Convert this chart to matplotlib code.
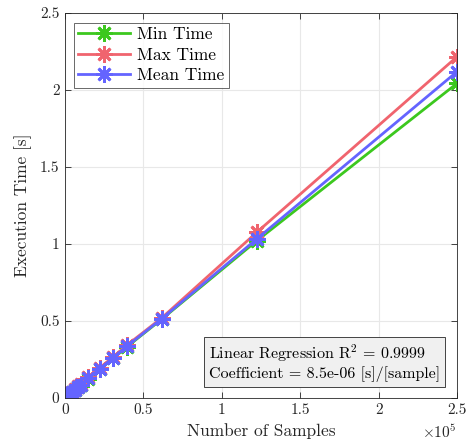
import matplotlib
matplotlib.use("Agg")
import matplotlib.pyplot as plt
from matplotlib.ticker import FuncFormatter

plt.rcParams['font.family'] = 'serif'
plt.rcParams['font.serif'] = ['cmr10', 'DejaVu Serif']
plt.rcParams['mathtext.fontset'] = 'cm'
plt.rcParams['axes.unicode_minus'] = False
plt.rcParams['axes.formatter.use_mathtext'] = True

samples = [500, 1000, 2000, 3200, 4300, 6400, 8500, 10000, 14900, 22300, 30800, 39700, 61700, 122200, 250000]
mean_time = [0.005, 0.010, 0.018, 0.028, 0.037, 0.055, 0.073, 0.086, 0.128, 0.190, 0.262, 0.338, 0.515, 1.032, 2.119]
max_time = [0.006, 0.012, 0.020, 0.031, 0.040, 0.060, 0.078, 0.092, 0.135, 0.197, 0.268, 0.345, 0.520, 1.075, 2.216]
min_time = [0.004, 0.009, 0.017, 0.026, 0.035, 0.053, 0.071, 0.084, 0.125, 0.187, 0.258, 0.334, 0.512, 1.020, 2.043]
labels = ["Min Time", "Max Time", "Mean Time"]
colors = ["#3cc81e", "#f0646e", "#6464ff"]
xticks = [0, 50000, 100000, 150000, 200000, 250000]
yticks = [0, 0.5, 1, 1.5, 2, 2.5]
r2_text = r"Linear Regression R$^2$ = 0.9999"
coef_text = "Coefficient = 8.5e-06 [s]/[sample]"

fig = plt.figure(figsize=(4.71, 4.46), dpi=100)
ax = fig.add_axes([65/471, 48/446, 392/471, 385/446])

for series, lab, col in zip([min_time, max_time, mean_time], labels, colors):
    ax.plot(samples, series, color=col, lw=2, marker=(8, 2, 0), markersize=12,
            markeredgewidth=2, label=lab)

ax.set_xlim(0, 250000)
ax.set_ylim(0, 2.5)
ax.set_xticks(xticks)
ax.set_yticks(yticks)
ax.xaxis.set_major_formatter(FuncFormatter(lambda v, p: f"{v/1e5:g}"))
ax.yaxis.set_major_formatter(FuncFormatter(lambda v, p: f"{v:g}"))
ax.tick_params(direction='in', length=4, width=0.6, labelsize=11, colors='#262626',
               top=True, right=True, labelcolor='#262626', pad=4)
ax.grid(True, color='#e8e8e8', lw=0.8)
ax.set_axisbelow(True)
for s in ax.spines.values():
    s.set_color('#262626')
    s.set_linewidth(0.6)

ax.set_xlabel("Number of Samples", fontsize=12.5, color='#262626', labelpad=4)
ax.set_ylabel("Execution Time [s]", fontsize=12.5, color='#262626', labelpad=6)
ax.text(1.0, -0.09, r"$\times10^5$", transform=ax.transAxes, ha='right', va='center',
        fontsize=11, color='#262626')

leg = ax.legend(loc='upper left', bbox_to_anchor=(0.023, 0.975), fontsize=12.5,
                frameon=True, fancybox=False, edgecolor='#262626', handlelength=3.0,
                borderpad=0.25, labelspacing=0.3, handletextpad=0.4, borderaxespad=0)
leg.get_frame().set_linewidth(0.6)

ax.text(0.367, 0.042, r2_text + "\n" + coef_text, transform=ax.transAxes,
        fontsize=11.5, ha='left', va='bottom', linespacing=1.15,
        bbox=dict(boxstyle='square,pad=0.3', facecolor='#f0f0f0', edgecolor='#262626', lw=0.6))

fig.savefig("out.png", dpi=100)
